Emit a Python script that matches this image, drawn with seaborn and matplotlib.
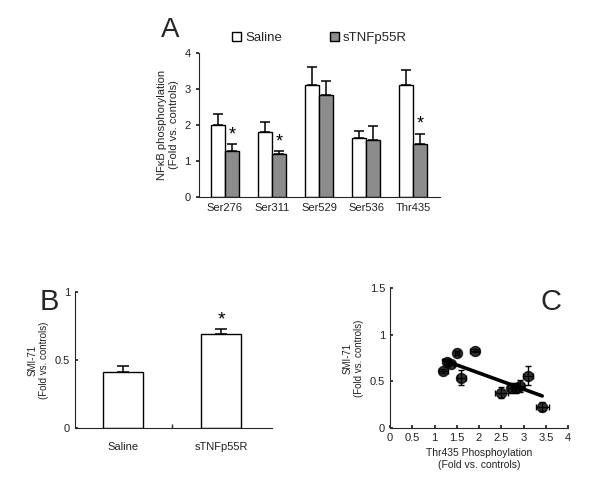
import numpy as np
import pandas as pd
import seaborn as sns
import matplotlib.pyplot as plt

# Panel A: NFkB phosphorylation
sites = ["Ser276", "Ser311", "Ser529", "Ser536", "Thr435"]
saline_mean = [2.00, 1.80, 3.10, 1.63, 3.12]
saline_err = [0.30, 0.28, 0.50, 0.20, 0.40]
stnf_mean = [1.27, 1.20, 2.82, 1.58, 1.47]
stnf_err = [0.20, 0.08, 0.40, 0.40, 0.29]
stnf_sig = [True, True, False, False, True]

# Panel B: SMI-71
groups_b = ["Saline", "sTNFp55R"]
smi_mean = [0.41, 0.69]
smi_err = [0.045, 0.04]
smi_sig = [False, True]

# Panel C: correlation
thr_x = [1.20, 1.29, 1.38, 1.50, 1.60, 1.90, 2.50, 2.73, 2.84, 2.92, 3.10, 3.42]
smi_y = [0.61, 0.71, 0.69, 0.80, 0.54, 0.83, 0.38, 0.43, 0.43, 0.45, 0.56, 0.23]
thr_xerr = [0.10, 0.08, 0.06, 0.05, 0.10, 0.10, 0.15, 0.08, 0.08, 0.08, 0.12, 0.15]
smi_yerr = [0.02, 0.03, 0.02, 0.02, 0.08, 0.02, 0.06, 0.05, 0.05, 0.06, 0.10, 0.05]

sns.set_theme(style="ticks")
plt.rcParams["font.family"] = ["Liberation Sans", "DejaVu Sans"]
plt.rcParams["axes.linewidth"] = 0.8

W, H = 600, 478
fig = plt.figure(figsize=(W / 100, H / 100), dpi=100)


def box(l, t, r, b):
    return [l / W, 1 - b / H, (r - l) / W, (b - t) / H]


dark = "#8c8c8c"
txt = "#222222"

# ---- A ----
axA = fig.add_axes(box(199, 53, 440, 197))
df_a = pd.DataFrame({
    "site": sites * 2,
    "group": ["Saline"] * 5 + ["sTNFp55R"] * 5,
    "value": saline_mean + stnf_mean,
})
sns.barplot(data=df_a, x="site", y="value", hue="group", order=sites,
            palette=["white", dark], edgecolor="black", linewidth=1.0,
            width=0.6, errorbar=None, ax=axA)
errs = saline_err + stnf_err
sigs = [False] * 5 + stnf_sig
for p, e, s in zip(axA.patches[:10], errs, sigs):
    cx = p.get_x() + p.get_width() / 2
    h = p.get_height()
    axA.errorbar(cx, h, yerr=[[0], [e]], color="black", capsize=3.5,
                 elinewidth=1.1, capthick=1.1)
    if s:
        axA.text(cx, h + e + 0.02, "*", ha="center", va="bottom",
                 fontsize=13, color="black")
axA.set_ylim(0, 4)
axA.set_xlim(-0.55, 4.57)
axA.set_yticks([0, 1, 2, 3, 4])
axA.set_xlabel("")
axA.set_ylabel("NFκB phosphorylation\n(Fold vs. controls)", fontsize=8, color=txt)
axA.tick_params(axis="x", length=0, labelsize=8, pad=4, colors=txt)
axA.tick_params(axis="y", length=2.5, labelsize=8, colors=txt)
axA.legend(loc="lower center", bbox_to_anchor=(0.5, 0.98), ncol=2,
           frameon=False, fontsize=9.5, handlelength=0.7, handleheight=0.7,
           handletextpad=0.3, columnspacing=3.6)
sns.despine(ax=axA)
fig.text(161 / W, 1 - 37 / H, "A", fontsize=20)

# ---- B ----
axB = fig.add_axes(box(75, 292, 272, 428))
df_b = pd.DataFrame({"group": groups_b, "value": smi_mean})
sns.barplot(data=df_b, x="group", y="value", color="white",
            edgecolor="black", linewidth=1.0, width=0.4, errorbar=None, ax=axB)
for p, e, s in zip(axB.patches, smi_err, smi_sig):
    cx = p.get_x() + p.get_width() / 2
    h = p.get_height()
    axB.errorbar(cx, h, yerr=[[0], [e]], color="black", capsize=4,
                 elinewidth=1.1, capthick=1.1)
    if s:
        axB.text(cx, h + e + 0.005, "*", ha="center", va="bottom",
                 fontsize=14, color="black")
axB.set_ylim(0, 1)
axB.set_xlim(-0.49, 1.52)
axB.set_yticks([0, 0.5, 1])
axB.set_yticklabels(["0", "0.5", "1"])
axB.set_xticks([0.5], minor=True)
axB.set_xlabel("")
axB.set_ylabel("SMI-71\n(Fold vs. controls)", fontsize=7, color=txt)
axB.tick_params(axis="x", which="major", length=0, labelsize=8, pad=10, colors=txt)
axB.tick_params(axis="x", which="minor", length=3, direction="in")
axB.tick_params(axis="y", length=2.5, direction="in", labelsize=8, colors=txt)
sns.despine(ax=axB)
fig.text(40 / W, 1 - 310 / H, "B", fontsize=21)

# ---- C ----
axC = fig.add_axes(box(390, 288, 568, 428))
axC.errorbar(thr_x, smi_y, xerr=thr_xerr, yerr=smi_yerr, fmt="none",
             ecolor="black", elinewidth=1.0, capsize=2.5, capthick=1.0)
sns.regplot(x=thr_x, y=smi_y, ci=None, truncate=True, ax=axC,
            scatter_kws={"s": 52, "color": "black", "zorder": 3},
            line_kws={"color": "black", "linewidth": 2.6})
axC.set_xlim(0, 4)
axC.set_ylim(0, 1.5)
axC.set_xticks(np.arange(0, 4.5, 0.5))
axC.set_xticklabels(["0", "0.5", "1", "1.5", "2", "2.5", "3", "3.5", "4"])
axC.set_yticks([0, 0.5, 1, 1.5])
axC.set_yticklabels(["0", "0.5", "1", "1.5"])
axC.set_xlabel("Thr435 Phosphoylation\n(Fold vs. controls)", fontsize=7.5, color=txt)
axC.set_ylabel("SMI-71\n(Fold vs. controls)", fontsize=7, color=txt)
axC.tick_params(axis="both", length=2.5, direction="in", labelsize=8, colors=txt)
sns.despine(ax=axC)
fig.text(540 / W, 1 - 310 / H, "C", fontsize=21)

fig.savefig("out.png", dpi=100, facecolor="white")
